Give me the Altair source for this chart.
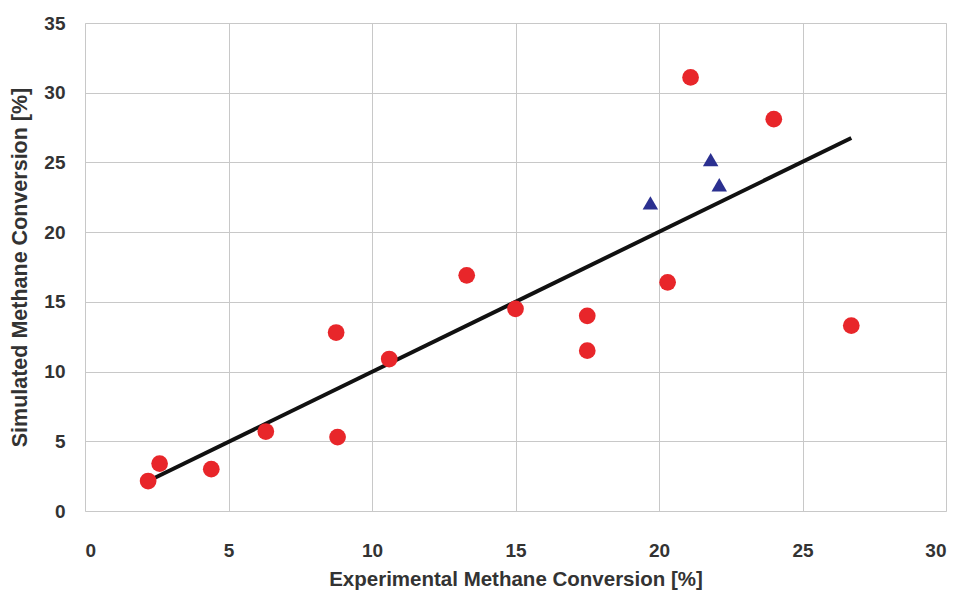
import altair as alt
import pandas as pd

circ_x = [2.2, 2.6, 4.4, 6.3, 8.75, 8.8, 10.6, 13.3, 15.0, 17.5, 17.5, 20.3, 21.1, 24.0, 26.7]
circ_y = [2.15, 3.4, 3.0, 5.7, 12.8, 5.3, 10.9, 16.9, 14.5, 14.0, 11.5, 16.4, 31.1, 28.1, 13.3]
tri_x = [19.7, 21.8, 22.1]
tri_y = [22.1, 25.2, 23.4]
fit_x = [2.4, 26.7]
fit_y = [2.35, 26.75]

circ = pd.DataFrame({"x": circ_x, "y": circ_y})
tri = pd.DataFrame({"x": tri_x, "y": tri_y})
fit = pd.DataFrame({"x": fit_x, "y": fit_y})

font = "Liberation Sans"
xs = alt.Scale(domain=[0, 30], nice=False, zero=False)
ys = alt.Scale(domain=[0, 35], nice=False, zero=False)
xax = alt.Axis(values=list(range(0, 31, 5)), title="Experimental Methane Conversion [%]",
               labelPadding=30, titlePadding=9, ticks=False, domain=False,
               labelFont=font, labelFontSize=19, labelFontWeight="bold", labelColor="#333",
               titleFont=font, titleFontSize=20.5, titleFontWeight="bold", titleColor="#333",
               gridColor="#c8c8c8", gridWidth=1)
yax = alt.Axis(values=list(range(0, 36, 5)), title="Simulated Methane Conversion [%]",
               labelPadding=20, titlePadding=12, ticks=False, domain=False,
               labelFont=font, labelFontSize=19, labelFontWeight="bold", labelColor="#333",
               titleFont=font, titleFontSize=21.5, titleFontWeight="bold", titleColor="#333",
               gridColor="#c8c8c8", gridWidth=1)

line = alt.Chart(fit).mark_line(color="#111", strokeWidth=4).encode(
    x=alt.X("x:Q", scale=xs, axis=xax), y=alt.Y("y:Q", scale=ys, axis=yax))
pts = alt.Chart(circ).mark_point(shape="circle", filled=True, size=280, color="#e8262a", opacity=1).encode(
    x=alt.X("x:Q", scale=xs), y=alt.Y("y:Q", scale=ys))
tris = alt.Chart(tri).mark_point(shape="triangle-up", filled=True, size=240, color="#2b3090", opacity=1).encode(
    x=alt.X("x:Q", scale=xs), y=alt.Y("y:Q", scale=ys))

chart = alt.layer(line, pts, tris).properties(
    width=861, height=488,
    autosize=alt.AutoSizeParams(type="none"),
    padding={"left": 77, "top": 15, "right": 4, "bottom": 79},
).configure_view(stroke="#a0a0a0", strokeWidth=1.5).configure(background="white")

chart.save("out.html", embed_options={"renderer": "svg", "actions": False})
